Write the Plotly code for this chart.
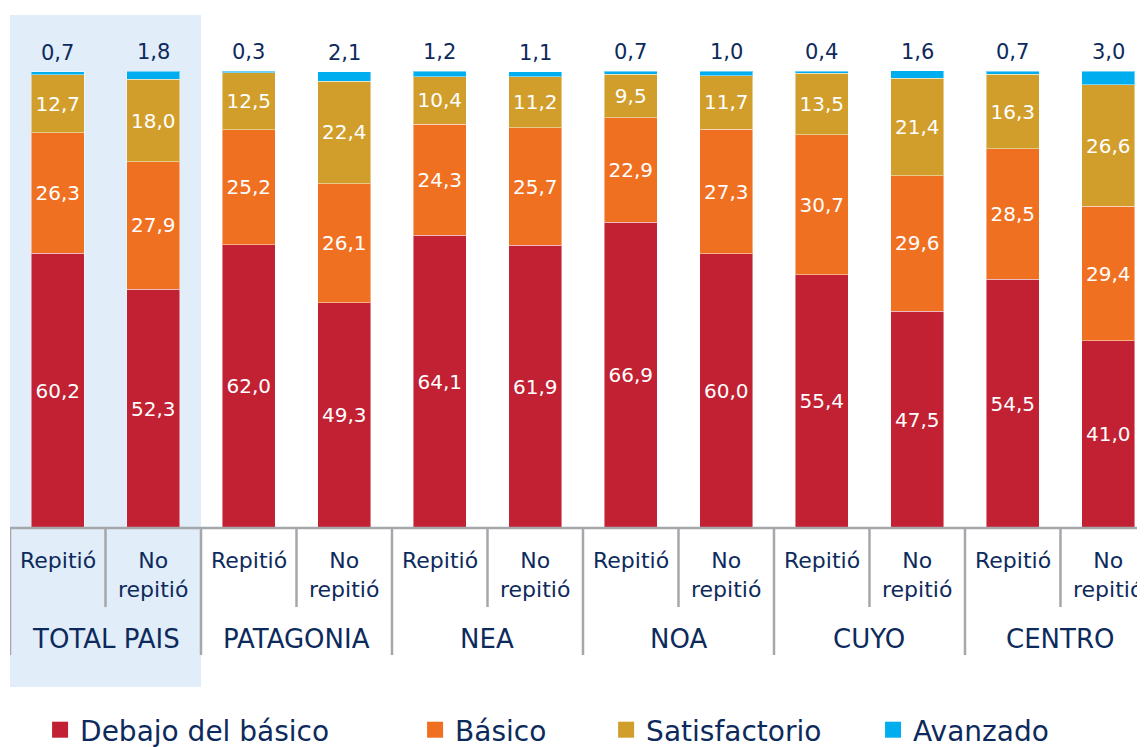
import plotly.graph_objects as go

# %% Data
regiones = ["TOTAL PAIS", "PATAGONIA", "NEA", "NOA", "CUYO", "CENTRO"]
grupos = ["Repitió", "No<br>repitió"]

debajo = [60.2, 52.3, 62.0, 49.3, 64.1, 61.9, 66.9, 60.0, 55.4, 47.5, 54.5, 41.0]
basico = [26.3, 27.9, 25.2, 26.1, 24.3, 25.7, 22.9, 27.3, 30.7, 29.6, 28.5, 29.4]
satisfactorio = [12.7, 18.0, 12.5, 22.4, 10.4, 11.2, 9.5, 11.7, 13.5, 21.4, 16.3, 26.6]
avanzado = [0.7, 1.8, 0.3, 2.1, 1.2, 1.1, 0.7, 1.0, 0.4, 1.6, 0.7, 3.0]

NAVY = "#0d2a5c"
GRIS = "#a5a7aa"
FONT = "DejaVu Sans"

# %% Bars
x = list(range(len(debajo)))
series = [
    ("Debajo del básico", debajo, "#c22033", True),
    ("Básico", basico, "#f07022", True),
    ("Satisfactorio", satisfactorio, "#d19e2b", True),
    ("Avanzado", avanzado, "#00aeef", False),
]
legend_ids = ["legend", "legend2", "legend3", "legend4"]

fig = go.Figure()
for (name, vals, color, show_text), lg in zip(series, legend_ids):
    fig.add_trace(go.Bar(
        x=x, y=vals, name=name, showlegend=False,
        marker=dict(color=color, line=dict(color="rgba(255,255,255,0.45)", width=1)),
        texttemplate="%{y:.1f}" if show_text else None,
        textposition="inside" if show_text else "none",
        insidetextanchor="middle", textangle=0, constraintext="none",
        textfont=dict(color="white", size=20, family=FONT),
        hoverinfo="skip",
    ))
    # entrada de leyenda (cuadrado más grande que el de la barra)
    fig.add_trace(go.Scatter(
        x=[None], y=[None], mode="markers", name=name, legend=lg, showlegend=True,
        marker=dict(symbol="square", size=16, color=color),
    ))

totales = [a + b + c + d for a, b, c, d in zip(debajo, basico, satisfactorio, avanzado)]

annotations = []
# valores de Avanzado arriba de cada barra
for i, (t, v) in enumerate(zip(totales, avanzado)):
    annotations.append(dict(x=i, y=t, text=f"{v:.1f}".replace(".", ","), showarrow=False,
                            yanchor="bottom", yshift=5,
                            font=dict(size=21, color=NAVY, family=FONT)))

shapes = []
# fondo TOTAL PAIS
shapes.append(dict(type="rect", xref="x", yref="y", x0=-0.5, x1=1.5, y0=-34.8, y1=112.3,
                   fillcolor="#e1edf9", line=dict(width=0), layer="below"))
# eje
shapes.append(dict(type="line", xref="x", yref="y", x0=-0.5, x1=11.5, y0=0, y1=0,
                   line=dict(color=GRIS, width=2.5)))

for r, reg in enumerate(regiones):
    for g, grp in enumerate(grupos):
        i = 2 * r + g
        annotations.append(dict(x=i, y=-4.0, text=grp, showarrow=False, yanchor="top",
                                font=dict(size=22, color=NAVY, family=FONT)))
    annotations.append(dict(x=2 * r + 0.5, y=-24.2, text=reg, showarrow=False,
                            font=dict(size=26, color=NAVY, family=FONT)))
    # divisores
    shapes.append(dict(type="line", xref="x", yref="y", x0=2 * r - 0.5, x1=2 * r - 0.5,
                       y0=0, y1=-27.8, line=dict(color=GRIS, width=2.5)))
    shapes.append(dict(type="line", xref="x", yref="y", x0=2 * r + 0.5, x1=2 * r + 0.5,
                       y0=0, y1=-17.3, line=dict(color=GRIS, width=2.5)))

# la página tiene 8px de margen en el body: se compensa en los márgenes
legend_x = [0.0265, 0.3569, 0.5252, 0.7604]
legend_style = {}
for lg, lx in zip(legend_ids, legend_x):
    legend_style[lg] = dict(orientation="h", x=lx, y=-8 / 747, xanchor="left", yanchor="bottom",
                            yref="container",
                            bgcolor="rgba(0,0,0,0)", itemsizing="trace",
                            font=dict(size=28, color=NAVY, family=FONT))

fig.update_layout(
    width=1145, height=747,
    barmode="stack", bargap=0.445,
    separators=",.",
    showlegend=True,
    plot_bgcolor="white", paper_bgcolor="white",
    margin=dict(l=2, r=8, t=7, b=68),
    xaxis=dict(range=[-0.5, 11.385], visible=False, fixedrange=True),
    yaxis=dict(range=[-34.8, 112.3], visible=False, fixedrange=True),
    annotations=annotations, shapes=shapes,
    font=dict(family=FONT, color=NAVY),
    **legend_style,
)

fig.write_html("out.html")
